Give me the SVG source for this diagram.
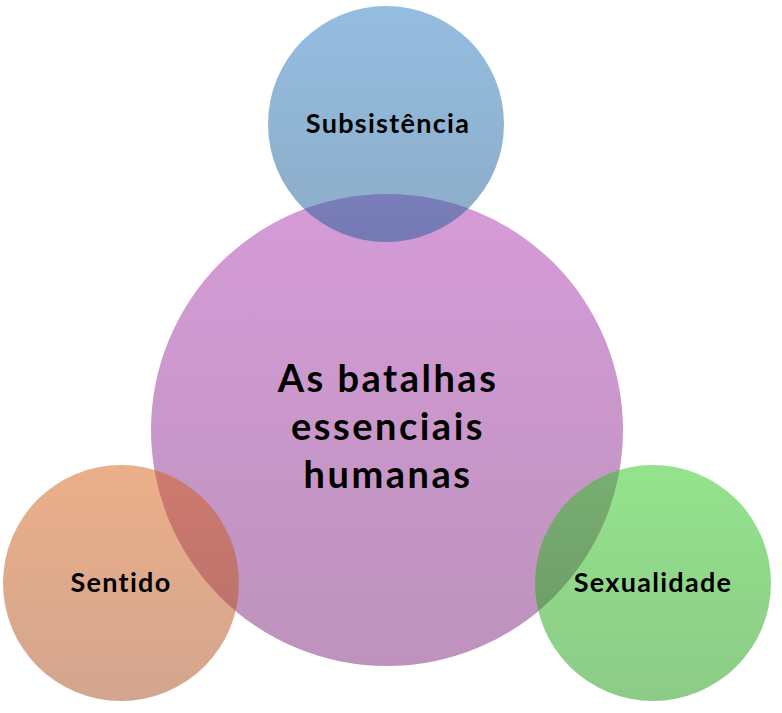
<svg xmlns="http://www.w3.org/2000/svg" width="782" height="713" viewBox="0 0 782 713">
<defs>
<linearGradient id="gPurple" x1="0" y1="0" x2="0" y2="1">
<stop offset="0" stop-color="#d59bd8"/>
<stop offset="1" stop-color="#bd93bc"/>
</linearGradient>
<linearGradient id="gBlue" x1="0" y1="0" x2="0" y2="1">
<stop offset="0" stop-color="rgb(43,123,193)" stop-opacity="0.5"/>
<stop offset="1" stop-color="rgb(25,89,145)" stop-opacity="0.5"/>
</linearGradient>
<linearGradient id="gOrange" x1="0" y1="0" x2="0" y2="1">
<stop offset="0" stop-color="rgb(215,95,20)" stop-opacity="0.5"/>
<stop offset="1" stop-color="rgb(167,75,29)" stop-opacity="0.5"/>
</linearGradient>
<linearGradient id="gGreen" x1="0" y1="0" x2="0" y2="1">
<stop offset="0" stop-color="rgb(41,199,25)" stop-opacity="0.5"/>
<stop offset="1" stop-color="rgb(25,151,15)" stop-opacity="0.5"/>
</linearGradient>
<style>
text{font-family:Lato,"Open Sans","Liberation Sans",sans-serif;font-weight:bold;fill:#000;text-anchor:middle}
.big{font-size:38px;letter-spacing:2.5px}
.small{font-size:27px;letter-spacing:1.3px}
</style>
</defs>
<g id="center">
<circle cx="387" cy="430" r="236" fill="url(#gPurple)"/>
</g>
<g id="subsistencia">
<circle cx="386" cy="124" r="118" fill="url(#gBlue)"/>
<text class="small" x="388" y="133">Subsistência</text>
</g>
<g id="sentido">
<circle cx="121" cy="583" r="118" fill="url(#gOrange)"/>
<text class="small" x="121" y="592">Sentido</text>
</g>
<g id="sexualidade">
<circle cx="653" cy="583" r="118" fill="url(#gGreen)"/>
<text class="small" x="653" y="592">Sexualidade</text>
</g>
<g id="center-label">
<text class="big" x="388" y="392">As batalhas</text>
<text class="big" x="388" y="440">essenciais</text>
<text class="big" x="388" y="488">humanas</text>
</g>
<g id="connectors"/>
</svg>
